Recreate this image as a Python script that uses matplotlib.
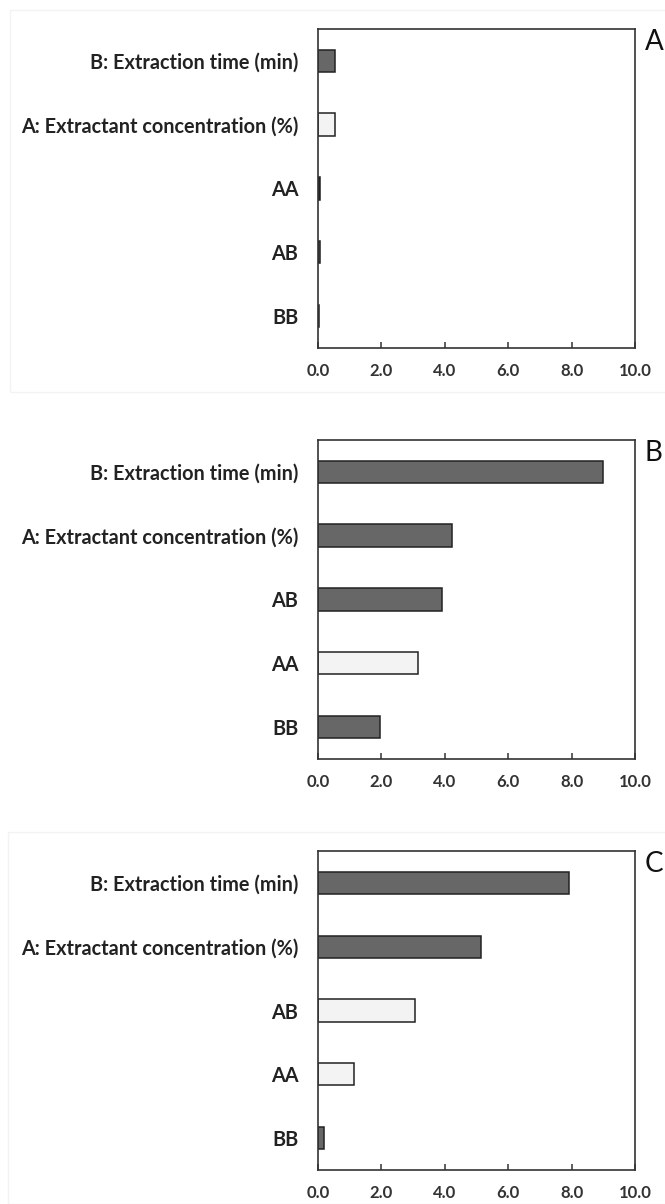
import matplotlib.pyplot as plt
from matplotlib.patches import Rectangle

plt.rcParams['font.family'] = ['Lato', 'DejaVu Sans']

# Pareto-style effect bars, three panels
labels_a = ["B: Extraction time (min)", "A: Extractant concentration (%)", "AA", "AB", "BB"]
values_a = [0.55, 0.55, 0.08, 0.08, 0.04]
shade_a = ["dark", "light", "black", "dark", "dark"]

labels_b = ["B: Extraction time (min)", "A: Extractant concentration (%)", "AB", "AA", "BB"]
values_b = [9.0, 4.24, 3.92, 3.16, 1.97]
shade_b = ["dark", "dark", "dark", "light", "dark"]

labels_c = ["B: Extraction time (min)", "A: Extractant concentration (%)", "AB", "AA", "BB"]
values_c = [7.92, 5.15, 3.07, 1.13, 0.2]
shade_c = ["dark", "dark", "light", "light", "dark"]

xticks = [0, 2, 4, 6, 8, 10]
panel_letters = ["A", "B", "C"]

colours = {"dark": "#676767", "light": "#f3f3f3", "black": "#1e1e1e"}

fig = plt.figure(figsize=(6.65, 12.04), dpi=100)

# faint outlines round the first and last panels, as in the source image
fig.patches.append(Rectangle((10 / 665, 1 - 392 / 1204), 660 / 665, 382 / 1204,
                             transform=fig.transFigure, fill=False,
                             edgecolor="#f3f3f3", linewidth=1))
fig.patches.append(Rectangle((8 / 665, 0), 660 / 665, 1 - 832 / 1204,
                             transform=fig.transFigure, fill=False,
                             edgecolor="#f3f3f3", linewidth=1))

panels = [(labels_a, values_a, shade_a, 0.711),
          (labels_b, values_b, shade_b, 0.3696),
          (labels_c, values_c, shade_c, 0.0282)]

for (labels, values, shades, bottom), letter in zip(panels, panel_letters):
    ax = fig.add_axes([0.478, bottom, 0.477, 0.265])
    pos = list(range(len(labels)))
    ax.barh(pos, values, height=0.35, color=[colours[s] for s in shades],
            edgecolor="#222222", linewidth=1.1)
    ax.set_ylim(4.5, -0.5)
    ax.set_xlim(0, 10)
    ax.set_yticks(pos)
    ax.set_yticklabels(labels, fontsize=14.3, fontweight="bold", color="#222222")
    ax.set_xticks(xticks)
    ax.set_xticklabels([f"{t:.1f}" for t in xticks], fontsize=12,
                       fontweight="bold", color="#333333")
    ax.tick_params(axis="y", length=0, pad=14)
    ax.tick_params(axis="x", direction="in", length=4, width=1.1,
                   color="#333333", pad=11)
    for sp in ax.spines.values():
        sp.set_linewidth(1.2)
        sp.set_color("#333333")
    ax.text(1.03, 1.0, letter, transform=ax.transAxes, fontsize=20,
            va="top", ha="left", color="#111111")

fig.savefig("out.png", dpi=100)
plt.close(fig)
